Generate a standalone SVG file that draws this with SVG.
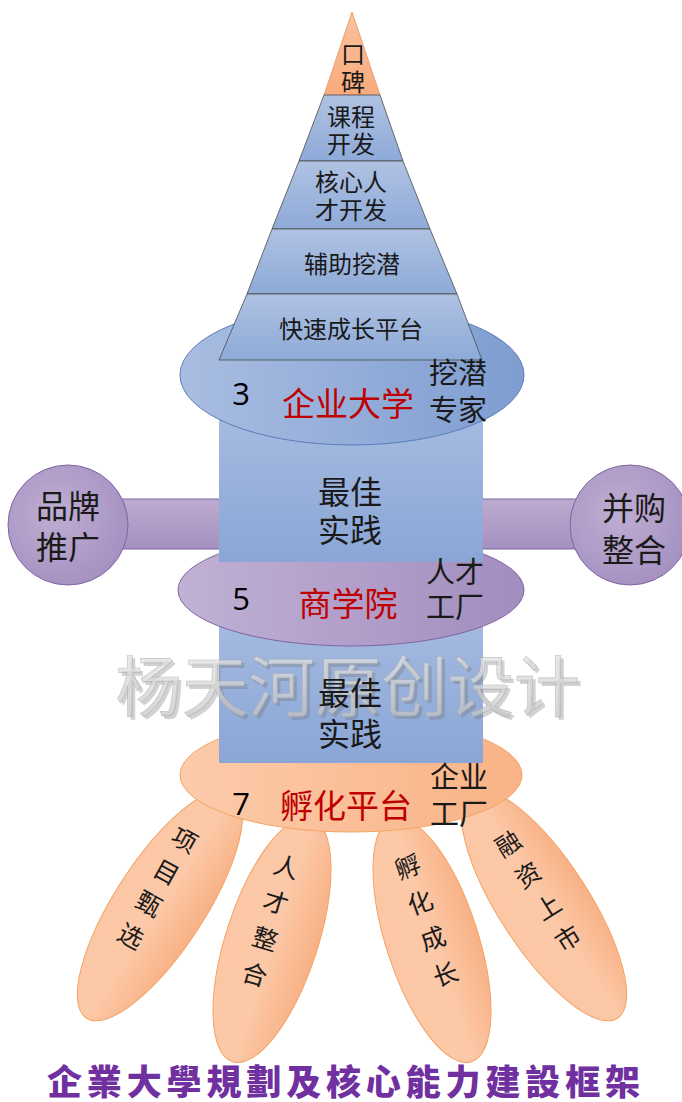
<svg xmlns="http://www.w3.org/2000/svg" width="682" height="1102" viewBox="0 0 682 1102">
<defs>
<linearGradient id="gPyr" x1="0" y1="0" x2="0" y2="1"><stop offset="0" stop-color="#afc2e3"/><stop offset="1" stop-color="#8eaad7"/></linearGradient>
<linearGradient id="gTop" x1="0" y1="0" x2="0" y2="1"><stop offset="0" stop-color="#fbc29e"/><stop offset="1" stop-color="#f8ab7c"/></linearGradient>
<linearGradient id="gBlueEl" x1="0" y1="0" x2="1" y2="0"><stop offset="0" stop-color="#a9bde1"/><stop offset="1" stop-color="#7f9dd1"/></linearGradient>
<linearGradient id="gCol" x1="0" y1="0" x2="0" y2="1"><stop offset="0" stop-color="#a8bde1"/><stop offset="1" stop-color="#8aa6d6"/></linearGradient>
<linearGradient id="gPurEl" x1="0" y1="0" x2="1" y2="0"><stop offset="0" stop-color="#c1b1d4"/><stop offset="1" stop-color="#a28dbf"/></linearGradient>
<linearGradient id="gBar" x1="0" y1="0" x2="0" y2="1"><stop offset="0" stop-color="#bdabd0"/><stop offset="1" stop-color="#a591c0"/></linearGradient>
<radialGradient id="gCirc" cx="0.4" cy="0.4" r="0.7"><stop offset="0" stop-color="#bfaed3"/><stop offset="1" stop-color="#a38ebf"/></radialGradient>
<linearGradient id="gOrEl" x1="0" y1="0" x2="1" y2="0"><stop offset="0" stop-color="#fccbab"/><stop offset="1" stop-color="#f9b386"/></linearGradient>
<linearGradient id="gPetal" x1="0" y1="0" x2="1" y2="0"><stop offset="0" stop-color="#fbc7a5"/><stop offset="0.5" stop-color="#fcc9a8"/><stop offset="1" stop-color="#f8b185"/></linearGradient>
<linearGradient id="gWm" x1="0" y1="0" x2="0" y2="1"><stop offset="0" stop-color="#ececec"/><stop offset="0.55" stop-color="#d6d6d6"/><stop offset="1" stop-color="#bdbdbd"/></linearGradient>
<style>
.layer{fill:url(#gPyr);stroke:#4a4a4a;stroke-width:0.8}
.cjk{font-family:"Noto Sans CJK SC","Noto Sans",sans-serif;fill:#1a1a1a;text-anchor:middle;dominant-baseline:central}
.pyr{font-size:24px}
.mid{font-size:32px}
.side{font-size:29px}
.big{font-size:32px}
.red{font-size:33px;fill:#c00000}
.num{font-family:"Open Sans","Liberation Sans",sans-serif;font-size:31px;fill:#000;text-anchor:middle;dominant-baseline:central}
.petal{fill:url(#gPetal);stroke:#f4a263;stroke-width:1}
.pt{font-size:25px}
.wm{font-family:"Noto Sans CJK SC",sans-serif;font-size:66px;text-anchor:middle;dominant-baseline:central}
</style>
</defs>

<g id="petals">
<ellipse class="petal" cx="0" cy="0" rx="45" ry="135" transform="translate(160,905) rotate(33)"/>
<ellipse class="petal" cx="0" cy="0" rx="46" ry="128" transform="translate(272,940) rotate(18)"/>
<ellipse class="petal" cx="0" cy="0" rx="46" ry="128" transform="translate(432,940) rotate(-18)"/>
<ellipse class="petal" cx="0" cy="0" rx="45" ry="135" transform="translate(544,905) rotate(-33)"/>
</g>

<g id="incubator-ellipse">
<ellipse cx="351" cy="775" rx="171" ry="57" fill="url(#gOrEl)" stroke="#f4a462" stroke-width="1"/>
</g>

<g id="column-lower">
<rect x="219" y="600" width="264" height="163" fill="url(#gCol)"/>
</g>

<g id="business-school-ellipse">
<ellipse cx="351" cy="590" rx="173" ry="56" fill="url(#gPurEl)" stroke="#8064a2" stroke-width="1"/>
</g>

<g id="connectors">
<rect x="60" y="499" width="580" height="50" fill="url(#gBar)" stroke="#8064a2" stroke-width="1"/>
</g>

<g id="brand-node">
<circle cx="68" cy="525" r="60" fill="url(#gCirc)" stroke="#8064a2" stroke-width="1"/>
<text class="cjk big" x="68" y="504">品牌</text>
<text class="cjk big" x="68" y="545">推广</text>
</g>

<g id="merger-node">
<circle cx="630" cy="525" r="60" fill="url(#gCirc)" stroke="#8064a2" stroke-width="1"/>
<text class="cjk big" x="634" y="506">并购</text>
<text class="cjk big" x="634" y="548">整合</text>
</g>

<g id="column-upper">
<rect x="219" y="400" width="264" height="162" fill="url(#gCol)"/>
</g>

<g id="university-ellipse">
<ellipse cx="352" cy="375" rx="172" ry="70" fill="url(#gBlueEl)" stroke="#5b7dba" stroke-width="1"/>
</g>

<g id="pyramid">
<polygon points="352,12 380,95 324,95" fill="url(#gTop)" stroke="#e8935c" stroke-width="0.8"/>
<polygon class="layer" points="324,95 380,95 403,161 299,161"/>
<polygon class="layer" points="299,161 403,161 430,229 272,229"/>
<polygon class="layer" points="272,229 430,229 457,294 247,294"/>
<polygon class="layer" points="247,294 457,294 482,360 219,360"/>
<text class="cjk pyr" x="353" y="52">口</text>
<text class="cjk pyr" x="353" y="80">碑</text>
<text class="cjk pyr" x="351" y="115">课程</text>
<text class="cjk pyr" x="351" y="142">开发</text>
<text class="cjk pyr" x="351" y="180">核心人</text>
<text class="cjk pyr" x="351" y="208">才开发</text>
<text class="cjk pyr" x="352" y="262">辅助挖潜</text>
<text class="cjk pyr" x="351" y="327">快速成长平台</text>
</g>

<g id="watermark">
<text class="wm" x="348" y="682" textLength="465" lengthAdjust="spacingAndGlyphs" fill="#6e6e6e" opacity="0.3" transform="translate(3,3)">杨天河原创设计</text>
<text class="wm" x="348" y="682" textLength="465" lengthAdjust="spacingAndGlyphs" fill="url(#gWm)" stroke="#a8a8a8" stroke-width="0.6" opacity="0.72">杨天河原创设计</text>
</g>

<g id="university-labels">
<text class="num" x="241" y="393">3</text>
<text class="cjk red" x="348" y="402">企业大学</text>
<text class="cjk side" x="458" y="371">挖潜</text>
<text class="cjk side" x="458" y="408">专家</text>
</g>

<g id="best-practice-1">
<text class="cjk mid" x="350" y="490">最佳</text>
<text class="cjk mid" x="350" y="528">实践</text>
</g>

<g id="business-school-labels">
<text class="num" x="241" y="598">5</text>
<text class="cjk red" x="348" y="602">商学院</text>
<text class="cjk side" x="455" y="570">人才</text>
<text class="cjk side" x="455" y="605">工厂</text>
</g>

<g id="best-practice-2">
<text class="cjk mid" x="350" y="691">最佳</text>
<text class="cjk mid" x="350" y="732">实践</text>
</g>

<g id="incubator-labels">
<text class="num" x="241" y="803">7</text>
<text class="cjk red" x="346" y="804">孵化平台</text>
<text class="cjk side" x="459" y="775">企业</text>
<text class="cjk side" x="459" y="812">工厂</text>
</g>

<g id="petal-labels">
<g transform="translate(158.5,886.5) rotate(29)">
<text class="cjk pt" x="0" y="-55">项</text><text class="cjk pt" x="0" y="-18">目</text><text class="cjk pt" x="0" y="18">甄</text><text class="cjk pt" x="0" y="55">选</text>
</g>
<g transform="translate(271,919) rotate(16.5)">
<text class="cjk pt" x="0" y="-56">人</text><text class="cjk pt" x="0" y="-19">才</text><text class="cjk pt" x="0" y="19">整</text><text class="cjk pt" x="0" y="56">合</text>
</g>
<g transform="translate(426,919) rotate(-19.4)">
<text class="cjk pt" x="0" y="-57">孵</text><text class="cjk pt" x="0" y="-19">化</text><text class="cjk pt" x="0" y="19">成</text><text class="cjk pt" x="0" y="57">长</text>
</g>
<g transform="translate(537,889.5) rotate(-32.3)">
<text class="cjk pt" x="0" y="-56">融</text><text class="cjk pt" x="0" y="-19">资</text><text class="cjk pt" x="0" y="19">上</text><text class="cjk pt" x="0" y="56">市</text>
</g>
</g>

<g id="title">
<text x="47" y="1079" font-family="Noto Sans CJK TC, Noto Sans CJK SC, sans-serif" font-size="35" font-weight="900" fill="#7030a0" dominant-baseline="central" textLength="593" lengthAdjust="spacing">企業大學規劃及核心能力建設框架</text>
</g>
</svg>
